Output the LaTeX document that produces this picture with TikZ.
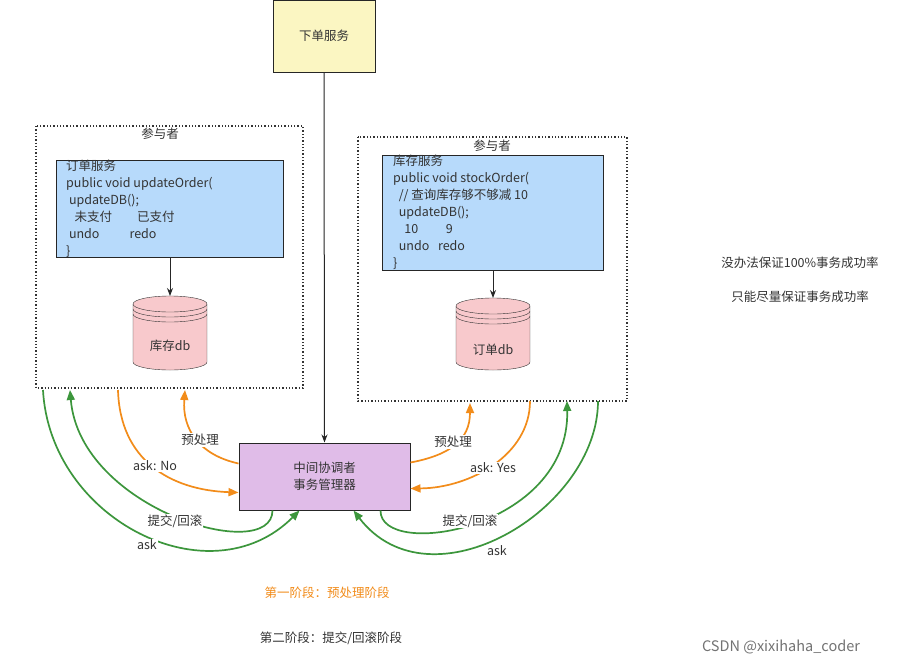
\documentclass[tikz,border=0pt]{standalone}
\usepackage{fontspec}
\setmainfont{Noto Sans CJK SC}
\usetikzlibrary{arrows.meta,calc}
\definecolor{codeblue}{HTML}{B7DAFB}
\definecolor{dbpink}{HTML}{F8C9CC}
\definecolor{mgrpurple}{HTML}{E0BCE8}
\definecolor{svcyellow}{HTML}{FBF6C2}
\definecolor{ogreen}{HTML}{3C963C}
\definecolor{oorange}{HTML}{F28C1A}
\definecolor{txtgray}{HTML}{333333}
\tikzset{
  box/.style={draw=black!85, line width=1pt},
  code/.style={align=left, anchor=north west, inner sep=0pt,
    font=\fontsize{12.5}{17}\selectfont, text=txtgray},
  part/.style={draw=black!80, line width=1.3pt, dash pattern=on 1.3pt off 2pt},
  lbl/.style={font=\fontsize{12.5}{14}\selectfont, text=txtgray, fill=white, inner sep=1pt},
  txt/.style={font=\fontsize{12.5}{14}\selectfont, text=txtgray},
  garr/.style={draw=ogreen, line width=1.7pt, -{Triangle[length=10pt,width=8pt]}},
  oarr/.style={draw=oorange, line width=1.7pt, -{Triangle[length=10pt,width=8pt]}},
  karr/.style={draw=black!85, line width=1pt, -{Stealth[length=8pt]}},
}
\newcommand{\dbcyl}[3]{% cx, top, bottom
  \fill[dbpink] (#1-37,#2) rectangle (#1+37,#3);
  \fill[dbpink] (#1,#3) ellipse (37 and 8);
  \draw[black!80] (#1-37,#2) -- (#1-37,#3) arc[start angle=180,end angle=0,x radius=37,y radius=8] -- (#1+37,#2);
  \draw[black!80,fill=dbpink] (#1,#2) ellipse (37 and 8);
  \draw[black!80] (#1-37,#2+5) arc[start angle=180,end angle=0,x radius=37,y radius=8];
  \draw[black!80] (#1-37,#2+10) arc[start angle=180,end angle=0,x radius=37,y radius=8];
}
\begin{document}
\begin{tikzpicture}[x=1pt,y=-1pt]
\useasboundingbox[fill=white] (0,0) rectangle (897,665);

% service at top
\node (svc) [box, fill=svcyellow, minimum width=102pt, minimum height=72pt, txt] at (324,36) {下单服务};

% left participant
\draw[part] (36,126) rectangle (303,388);
\node (lt) [lbl] at (160,134) {参与者};
\path[box, fill=codeblue] (56,160) rectangle (283,257);
\node (lcode) [code] at (66,160) {订单服务\\public void updateOrder(\\\ updateDB();\\\ \ \ 未支付\hspace{2em}已支付\\\ undo\hspace{2.4em}redo\\\}};
\dbcyl{170}{304}{362}
\node (ldb) [txt] at (170,346) {库存db};
\coordinate (lcb) at (170,257);
\coordinate (ldt) at (170,296);
\draw[karr] (lcb) -- (ldt);

% right participant
\draw[part] (358,137) rectangle (627,401);
\node (rt) [lbl] at (492,146) {参与者};
\path[box, fill=codeblue] (382,155) rectangle (603,270);
\node (rcode) [code] at (393,155) {库存服务\\public void stockOrder(\\\ \ // 查询库存够不够减 10\\\ \ updateDB();\\\ \ \ \ 10\hspace{2.2em}9\\\ \ undo\hspace{0.7em}redo\\\}};
\dbcyl{493}{306}{362}
\node (rdb) [txt] at (493,350) {订单db};
\coordinate (rcb) at (493,270);
\coordinate (rdt) at (493,298);
\draw[karr] (rcb) -- (rdt);

% coordinator
\node (mgr) [box, fill=mgrpurple, minimum width=171pt, minimum height=67pt, align=center,
  font=\fontsize{12.5}{17}\selectfont, text=txtgray] at (324.5,476.5) {中间协调者\\事务管理器};
\draw[karr] (svc.south) -- (mgr.north);

% left connectors
\coordinate (l1) at (43,390);
\coordinate (l2) at (70,390);
\coordinate (l3) at (118,390);
\coordinate (l4) at (185,390);
\draw[oarr] (l3) .. controls (120,460) and (170,490) .. ($(mgr.west)+(0,16)$);
\draw[oarr] ($(mgr.west)+(0,-13)$) .. controls (200,455) and (182,430) .. (l4);
\draw[garr] (l1) .. controls (50,520) and (210,600) .. ($(mgr.south)+(-25,0)$);
\draw[garr] ($(mgr.south)+(-52,0)$) .. controls (272,565) and (80,510) .. (l2);
\node (lp) [lbl] at (200,440) {预处理};
\node (lan) [lbl] at (155,466) {ask: No};
\node (ltj) [lbl] at (175,521) {提交/回滚};
\node (lask) [lbl] at (147,545) {ask};

% right connectors
\coordinate (r1) at (470,403);
\coordinate (r2) at (530,401);
\coordinate (r3) at (567,401);
\coordinate (r4) at (598,401);
\draw[oarr] ($(mgr.east)+(0,-14)$) .. controls (450,455) and (470,440) .. (r1);
\draw[oarr] (r2) .. controls (530,455) and (470,488) .. ($(mgr.east)+(0,12)$);
\draw[garr] ($(mgr.south)+(56,0)$) .. controls (380,560) and (570,530) .. (r3);
\draw[garr] (r4) .. controls (598,510) and (430,610) .. ($(mgr.south)+(29,0)$);
\node (rp) [lbl] at (453,442) {预处理};
\node (ray) [lbl] at (493,468) {ask: Yes};
\node (rtj) [lbl] at (470,521) {提交/回滚};
\node (rask) [lbl] at (497,551) {ask};

% notes
\node (n1) [txt] at (800,263) {没办法保证100\%事务成功率};
\node (n2) [txt] at (800,297) {只能尽量保证事务成功率};
\node (ph1) [txt, text=oorange] at (327,593) {第一阶段：预处理阶段};
\node (ph2) [txt] at (331,638) {第二阶段：提交/回滚阶段};
\node (wm) [font=\fontsize{14.5}{16}\selectfont, text=black!55] at (781,647) {CSDN @xixihaha\_coder};
\end{tikzpicture}
\end{document}
